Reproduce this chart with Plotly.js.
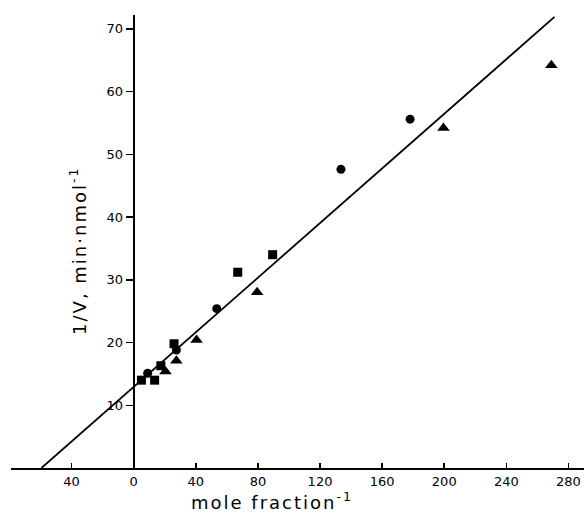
<!DOCTYPE html>
<html>
<head>
<meta charset="utf-8">
<script src="https://cdn.plot.ly/plotly-3.0.1.min.js"></script>
<style>
html,body{margin:0;padding:0;background:#fff;}
#chart{width:584px;height:518px;}
#chart .annotation-text{letter-spacing:2px;}
</style>
</head>
<body>
<div id="chart"></div>
<script>
// Data
const squareX = [5, 13.5, 17.5, 26, 67, 89.5];
const squareY = [14.0, 14.0, 16.3, 19.8, 31.2, 34.0];
const circleX = [9, 27.5, 53.5, 133.5, 178];
const circleY = [15.1, 18.8, 25.4, 47.6, 55.6];
const triangleX = [20.5, 27.5, 40.5, 79.5, 199.5, 269];
const triangleY = [15.4, 17.1, 20.4, 28.0, 54.2, 64.2];
const fitX = [-59.4, 271];
const fitY = [0, 71.9];
const xTickVals = [-40, 0, 40, 80, 120, 160, 200, 240, 280];
const xTickText = ['40', '0', '40', '80', '120', '160', '200', '240', '280'];
const yTickVals = [10, 20, 30, 40, 50, 60, 70];

const fam = 'DejaVu Sans, Liberation Sans, sans-serif';
const xRange = [-79, 290];
const yRange = [0, 72.2];

const traces = [
  {x: fitX, y: fitY, mode: 'lines', line: {color: '#000', width: 1.8}, hoverinfo: 'skip', showlegend: false},
  {x: squareX, y: squareY, mode: 'markers', marker: {symbol: 'square', size: 9, color: '#000'}, showlegend: false},
  {x: circleX, y: circleY, mode: 'markers', marker: {symbol: 'circle', size: 9, color: '#000'}, showlegend: false},
  {x: triangleX, y: triangleY, mode: 'markers', marker: {symbol: 'triangle-up', size: 11, color: '#000'}, showlegend: false}
];

const layout = {
  width: 584, height: 518,
  margin: {l: 11, r: 0, t: 15, b: 50},
  paper_bgcolor: '#fff', plot_bgcolor: '#fff',
  font: {family: fam, color: '#000'},
  xaxis: {
    range: xRange, showgrid: false, zeroline: false,
    showline: true, linecolor: '#000', linewidth: 2,
    ticks: 'inside', ticklen: 5, tickwidth: 1.5, tickcolor: '#000',
    tickmode: 'array', tickvals: xTickVals, ticktext: xTickText,
    tickfont: {family: fam, size: 13, color: '#000'}
  },
  yaxis: {
    range: yRange, showgrid: false, zeroline: false,
    anchor: 'free', position: (0 - xRange[0]) / (xRange[1] - xRange[0]),
    showline: true, linecolor: '#000', linewidth: 2,
    ticks: 'outside', ticklen: 7, tickwidth: 1.5, tickcolor: '#000',
    tickmode: 'array', tickvals: yTickVals,
    tickfont: {family: fam, size: 13, color: '#000'}
  },
  annotations: [
    {text: 'mole fraction<sup>-1</sup>', xref: 'x', yref: 'paper', x: 89, y: -0.104, yanchor: 'bottom', xanchor: 'center',
     showarrow: false, font: {family: fam, size: 18, color: '#000'}},
    {text: '1/V, min·nmol<sup>-1</sup>', xref: 'paper', yref: 'y', x: 0.117, y: 34.6, xanchor: 'center', yanchor: 'middle',
     textangle: -90, showarrow: false, font: {family: fam, size: 18, color: '#000'}}
  ]
};

Plotly.newPlot('chart', traces, layout, {displayModeBar: false, staticPlot: true});
</script>
</body>
</html>
